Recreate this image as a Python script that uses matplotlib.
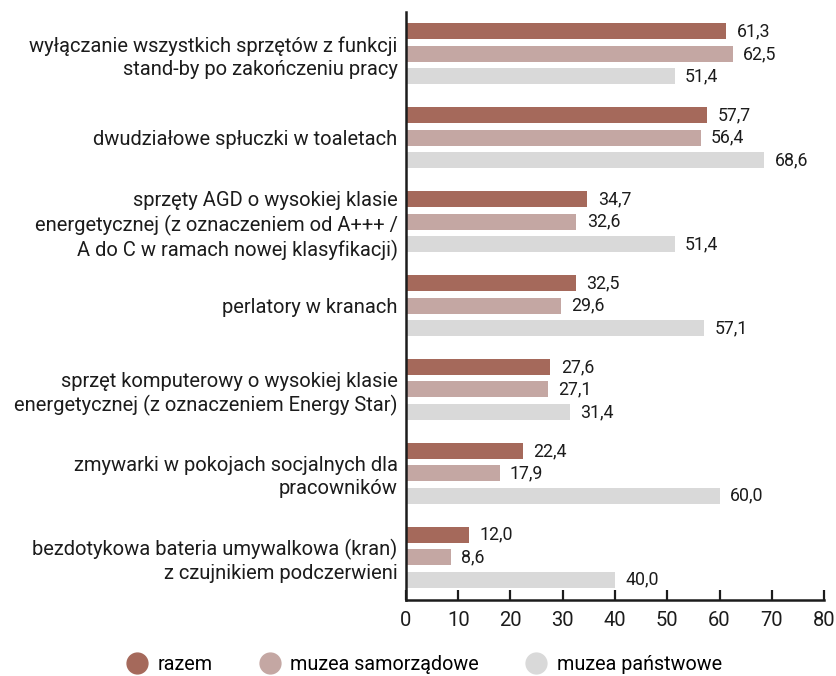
import matplotlib
matplotlib.use('Agg')
import matplotlib.pyplot as plt
from matplotlib.lines import Line2D
import numpy as np

plt.rcParams['font.family'] = ['Roboto', 'DejaVu Sans']

categories = [
    'wyłączanie wszystkich sprzętów z funkcji\nstand-by po zakończeniu pracy',
    'dwudziałowe spłuczki w toaletach',
    'sprzęty AGD o wysokiej klasie\nenergetycznej (z oznaczeniem od A+++ /\nA do C w ramach nowej klasyfikacji)',
    'perlatory w kranach',
    'sprzęt komputerowy o wysokiej klasie\nenergetycznej (z oznaczeniem Energy Star)',
    'zmywarki w pokojach socjalnych dla\npracowników',
    'bezdotykowa bateria umywalkowa (kran)\nz czujnikiem podczerwieni',
]
razem = [61.3, 57.7, 34.7, 32.5, 27.6, 22.4, 12.0]
samorzadowe = [62.5, 56.4, 32.6, 29.6, 27.1, 17.9, 8.6]
panstwowe = [51.4, 68.6, 51.4, 57.1, 31.4, 60.0, 40.0]

series = [
    ('razem', razem, '#a5695b'),
    ('muzea samorządowe', samorzadowe, '#c4a7a3'),
    ('muzea państwowe', panstwowe, '#d9d9d9'),
]
txt = '#1c1c1c'

fig = plt.figure(figsize=(8.37, 6.76), dpi=100)
ax = fig.add_axes([406 / 837, 1 - 600 / 676, 418 / 837, 588 / 676])

y = np.arange(len(categories))
offsets = [-0.268, 0.0, 0.268]
for (name, vals, col), off in zip(series, offsets):
    ax.barh(y + off, vals, height=0.19, color=col, label=name)
    for yi, v in zip(y, vals):
        ax.text(v + 2.0, yi + off, f'{v:.1f}'.replace('.', ','),
                va='center', ha='left', fontsize=12.8, color=txt)

ax.set_xlim(0, 80)
ax.set_ylim(6.51, -0.5)
ax.set_xticks(np.arange(0, 81, 10))
ax.set_yticks(y)
ax.set_yticklabels(categories, fontsize=14.5, color=txt, linespacing=1.25)
ax.tick_params(axis='y', length=0, pad=6)
ax.tick_params(axis='x', direction='in', length=7, width=1.6, labelsize=14.5,
               pad=8, colors=txt)
for s in ['top', 'right']:
    ax.spines[s].set_visible(False)
for s in ['left', 'bottom']:
    ax.spines[s].set_linewidth(1.8)
    ax.spines[s].set_color(txt)

handles = [Line2D([0], [0], marker='o', linestyle='', markersize=15,
                  markerfacecolor=c, markeredgecolor=c, label=n)
           for n, _, c in series]
fig.legend(handles=handles, loc='center', bbox_to_anchor=(0.506, 1 - 664 / 676),
           ncol=3, frameon=False, fontsize=14.2, handletextpad=0.45,
           handlelength=1.2, columnspacing=2.3)

plt.savefig('out.png', dpi=100)
